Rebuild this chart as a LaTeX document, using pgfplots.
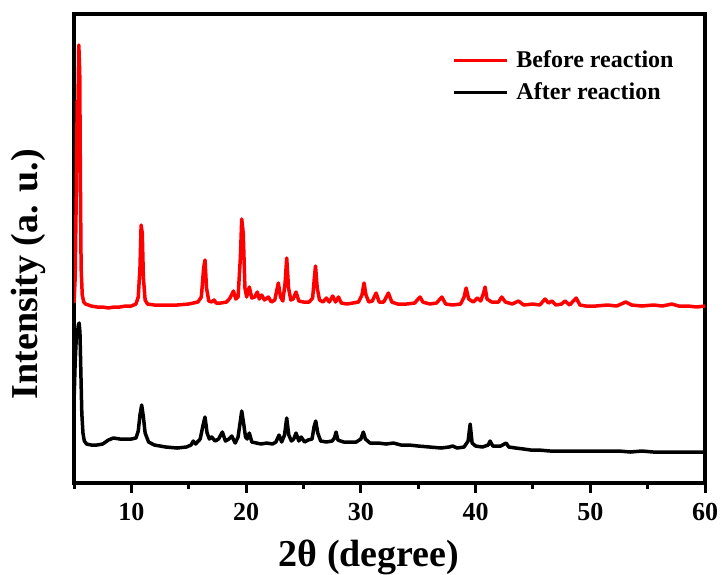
\documentclass[border=0pt]{standalone}
\usepackage{fontspec}
\setmainfont{Liberation Serif}
\usepackage{pgfplots}
\pgfplotsset{compat=1.18}

\begin{document}
\begin{tikzpicture}
\begin{axis}[
    scale only axis,
    width=315.5pt,
    height=234.5pt,
    xmin=5, xmax=60,
    ymin=0, ymax=469,
    xtick={10,20,...,60},
    minor xtick={5,15,...,55},
    ytick=\empty,
    tick align=outside,
    major tick length=5pt,
    minor tick length=3pt,
    tick style={line width=1.5pt, black},
    axis line style={line width=1.75pt},
    xtick pos=bottom,
    /pgf/number format/assume math mode=true,
    ticklabel style={font=\fontsize{13}{15}\selectfont\bfseries},
    xticklabel style={anchor=base, yshift=-13.9pt},
    xlabel={2θ (degree)},
    ylabel={Intensity (a. u.)},
    xlabel style={font=\fontsize{19}{22}\selectfont\bfseries,
        at={(axis description cs:0.4675,0)}, anchor=base, yshift=-41.5pt},
    ylabel style={font=\fontsize{19}{22}\selectfont\bfseries,
        at={(axis description cs:-0.0586,0.4456)}, anchor=base},
    legend style={draw=none, fill=none, at={(rel axis cs:0.589,0.94)},
        anchor=north west, font=\fontsize{12}{14}\selectfont\bfseries,
        row sep=2pt},
    legend cell align=left,
    legend image code/.code={\draw[#1] (0cm,0cm) -- (0.93cm,0cm); \path (1.0cm,0cm);},
]
\addplot[red, line width=1.75pt, line join=round] coordinates {
(5.0,180) (5.1,205) (5.2,290) (5.28,382) (5.34,375) (5.42,438) (5.5,410) (5.56,300)
(5.62,215) (5.72,188) (5.85,181) (6.0,179) (6.5,177) (7.0,176) (7.5,176) (8.0,175)
(8.5,176) (9.0,176) (9.5,177) (10.0,177) (10.4,179) (10.6,186) (10.75,215) (10.85,258)
(10.95,250) (11.05,205) (11.2,183) (11.4,179) (12,178) (13,178) (14,178) (15,179)
(15.8,181) (16.1,186) (16.3,215) (16.42,223) (16.55,195) (16.75,182) (17.0,181) (17.2,183)
(17.4,180) (17.8,180) (18.3,181) (18.6,185) (18.9,192) (19.1,184) (19.3,186) (19.5,225)
(19.62,264) (19.75,250) (19.9,195) (20.05,186) (20.28,196) (20.5,185) (20.75,186) (20.98,191)
(21.15,184) (21.36,188) (21.6,183) (21.94,186) (22.2,181) (22.5,183) (22.81,200) (23.0,186)
(23.2,182) (23.4,200) (23.54,225) (23.7,195) (23.9,183) (24.1,184) (24.35,191) (24.6,182)
(25.0,181) (25.5,181) (25.8,185) (25.95,205) (26.05,217) (26.2,195) (26.4,183) (26.7,181)
(27.0,185) (27.25,181) (27.55,187) (27.8,181) (28.05,186) (28.3,180) (28.8,179) (29.3,180)
(29.8,181) (30.1,188) (30.28,200) (30.45,188) (30.7,181) (31.0,182) (31.33,190) (31.6,181)
(32.0,181) (32.4,190) (32.7,181) (33.2,179) (34.0,179) (34.7,180) (35.0,184) (35.17,186)
(35.4,181) (36.0,179) (36.6,180) (37.06,186) (37.4,179) (38.0,178) (38.7,179) (39.0,186)
(39.18,195) (39.4,184) (39.8,181) (40.16,185) (40.45,182) (40.7,190) (40.83,196) (41.0,184)
(41.4,181) (42.0,181) (42.28,186) (42.6,181) (43.2,179) (43.74,182) (44.2,178) (45.0,179)
(45.6,178) (46.06,184) (46.35,180) (46.65,182) (47.0,178) (47.5,179) (47.8,182) (48.2,178)
(48.77,185) (49.1,178) (49.6,177) (50.5,177) (51.5,178) (52.3,177) (53.1,181) (53.6,178)
(54.5,177) (55.5,178) (56.3,177) (57.1,179) (57.7,177) (58.5,177) (59.3,176) (60,177)
};
\addlegendentry{Before reaction}
\addplot[black, line width=1.75pt, line join=round] coordinates {
(5.0,80) (5.1,120) (5.2,145) (5.3,150) (5.38,158) (5.45,160) (5.52,150) (5.6,110)
(5.68,70) (5.78,50) (5.9,42) (6.1,39) (6.5,38) (7.0,38) (7.5,39) (8.0,43)
(8.43,45) (9.0,44) (9.5,44) (10.0,44) (10.4,45) (10.6,52) (10.75,68) (10.9,78)
(11.05,66) (11.2,50) (11.5,41) (12,38) (12.5,37) (13,36) (14,35) (14.8,36)
(15.2,38) (15.4,42) (15.6,39) (16.0,44) (16.25,58) (16.42,66) (16.6,50) (16.8,44)
(17.0,46) (17.3,42) (17.6,44) (17.93,51) (18.2,42) (18.5,44) (18.75,47) (19.05,40)
(19.3,46) (19.5,62) (19.62,72) (19.78,60) (19.95,46) (20.1,44) (20.28,50) (20.5,41)
(20.9,40) (21.3,39) (21.8,40) (22.3,39) (22.6,41) (22.87,48) (23.1,41) (23.35,48)
(23.54,65) (23.72,48) (23.95,42) (24.15,44) (24.35,50) (24.6,42) (24.8,46) (25.1,41)
(25.4,43) (25.75,44) (25.92,56) (26.07,62) (26.25,50) (26.5,42) (27.0,41) (27.5,42)
(27.7,45) (27.84,51) (28.0,43) (28.5,41) (29.0,41) (29.6,41) (30.0,44) (30.22,51)
(30.4,44) (30.8,40) (31.5,40) (32.2,39) (32.84,40) (33.5,38) (34.2,38) (35.0,37)
(36.0,36) (37.0,35) (37.7,36) (38.0,37) (38.4,35) (39.0,36) (39.35,42) (39.53,59)
(39.7,40) (40.0,37) (40.6,36) (41.1,38) (41.27,42) (41.5,37) (42.2,37) (42.66,40)
(42.9,36) (43.5,35) (44.2,34) (44.8,33) (45.5,33) (46.5,32) (47.5,32) (48.5,32)
(49.5,32) (50.5,32) (51.5,32) (52.5,32) (53.5,31) (54.5,32) (55.5,31) (56.5,31)
(57.5,31) (58.5,31) (59.5,31) (60,31)
};
\addlegendentry{After reaction}
\end{axis}
\pgfresetboundingbox
\path ([xshift=-37pt, yshift=-45.5pt]current axis.south west)
    rectangle ([xshift=8.5pt, yshift=7pt]current axis.north east);
\end{tikzpicture}
\end{document}
